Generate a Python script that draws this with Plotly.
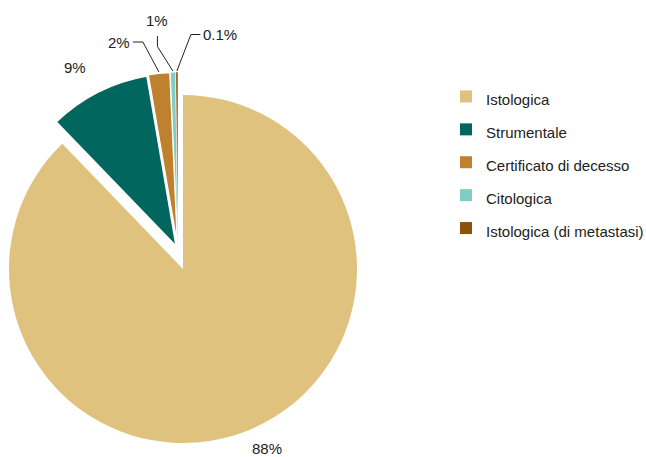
import math
import plotly.graph_objects as go

# base della diagnosi
labels = ["Istologica", "Strumentale", "Certificato di decesso", "Citologica", "Istologica (di metastasi)"]
values = [87.8, 9.5, 2.0, 0.5, 0.2]
pct_labels = ["88%", "9%", "2%", "1%", "0.1%"]
colors = ["#DFC27D", "#01665E", "#BF812D", "#80CDC1", "#8C510A"]

W, H = 646, 457
clear = "rgba(0,0,0,0)"
ink = "#222"
font = dict(family="Arial", size=15, color=ink)

main_c, main_r = (183, 269), 174      # Istologica
out_c, out_r = (178, 250), 178        # the exploded slices


def dom(c, r):
    # pie domain (paper coords) for a given centre / radius in pixels
    cx, cy = c
    return dict(x=[(cx - r) / W, (cx + r) / W], y=[1 - (cy + r) / H, 1 - (cy - r) / H])


fig = go.Figure()

# legend-only copy, hidden under the main slice
fig.add_trace(go.Pie(
    labels=[f"<span style='font-size:15px'>{l}</span>" for l in labels],
    values=values, sort=False, direction="clockwise", rotation=0,
    marker=dict(colors=colors), textinfo="none", hoverinfo="skip",
    domain=dom((260, 330), 5), showlegend=True,
))

# main slice (Istologica)
fig.add_trace(go.Pie(
    labels=labels, values=values, sort=False, direction="clockwise", rotation=0,
    marker=dict(colors=[colors[0]] + [clear] * 4),
    textinfo="none", domain=dom(main_c, main_r), showlegend=False,
))

# the other slices, pulled out together
fig.add_trace(go.Pie(
    labels=labels, values=values, sort=False, direction="clockwise", rotation=0,
    marker=dict(colors=[clear] + colors[1:],
                line=dict(color="white", width=[0, 4, 2, 1, 0.5])),
    textinfo="none", domain=dom(out_c, out_r), showlegend=False,
))

# percentage labels: offset from the slice edge, optional elbow leader line
# (edge -> elbow, elbow -> line end, label anchor)
label_pos = [
    ((19, 17), None, "center", "middle"),
    ((-22, -23), None, "center", "middle"),
    ((-16, -30), (-10, 0), "right", "middle"),
    ((-15.5, -24.5), (0, -10.5), "center", "bottom"),
    ((14, -36.5), (9.5, 0), "left", "middle"),
]
total = sum(values)
cum = 0
for i, v in enumerate(values):
    theta = math.radians(360 * (cum + v / 2) / total)
    cum += v
    (cx, cy), r = (main_c, main_r) if i == 0 else (out_c, out_r)
    ex = cx + (r + 1) * math.sin(theta)
    ey = cy - (r + 1) * math.cos(theta)
    (d1x, d1y), d2, xa, ya = label_pos[i]
    bx, by = ex + d1x, ey + d1y
    if d2 is None:
        tx, ty = bx, by
    else:
        tx, ty = bx + d2[0], by + d2[1]
        fig.add_shape(type="path", xref="paper", yref="paper",
                      path=f"M{ex / W},{1 - ey / H} L{bx / W},{1 - by / H} L{tx / W},{1 - ty / H}",
                      line=dict(color=ink, width=1))
        tx += {"right": -1, "left": 1}.get(xa, 0)
        ty -= 5 if ya == "bottom" else 0
    fig.add_annotation(x=tx / W, y=1 - ty / H, xref="paper", yref="paper",
                       text=pct_labels[i], showarrow=False,
                       xanchor=xa, yanchor=ya, font=font)

fig.update_layout(
    width=W, height=H,
    margin=dict(l=0, r=0, t=0, b=0, autoexpand=False),
    paper_bgcolor="white", plot_bgcolor="white",
    font=font,
    legend=dict(x=1 + 3 / W, y=1 - 75 / H, xanchor="right", yanchor="top",
                font=dict(size=23, family="Arial", color=ink),
                itemclick=False, itemdoubleclick=False),
)

fig.write_html("out.html", config={"displayModeBar": False},
               post_script="document.body.style.margin = '0';")
